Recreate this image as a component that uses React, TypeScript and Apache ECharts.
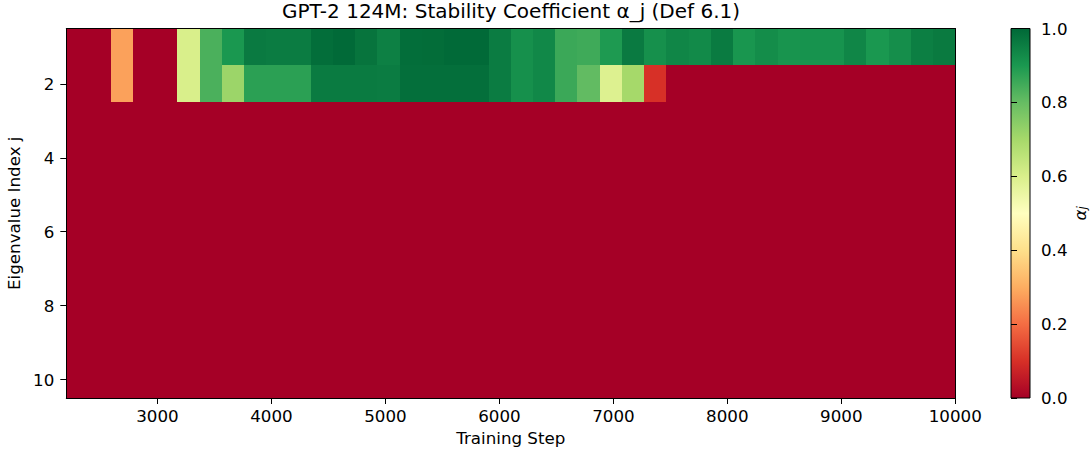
import React, { useEffect, useRef } from "react";
import * as echarts from "echarts";

// Training steps (one image column each; imshow extent runs from first to last step)
const steps = [
  2200, 2400, 2600, 2800, 3000, 3200, 3400, 3600, 3800, 4000,
  4200, 4400, 4600, 4800, 5000, 5200, 5400, 5600, 5800, 6000,
  6200, 6400, 6600, 6800, 7000, 7200, 7400, 7600, 7800, 8000,
  8200, 8400, 8600, 8800, 9000, 9200, 9400, 9600, 9800, 10000,
];

const eigenIndices = [1, 2, 3, 4, 5, 6, 7, 8, 9, 10];

// Stability coefficient alpha_j per column
const alphaJ1 = [
  0, 0, 0.28, 0, 0, 0.6, 0.835, 0.9, 0.962, 0.958,
  0.958, 0.988, 0.995, 0.975, 0.95, 0.988, 0.99, 0.996, 0.996, 0.958,
  0.917, 0.933, 0.857, 0.851, 0.895, 0.962, 0.917, 0.9375, 0.929, 0.96,
  0.904, 0.923, 0.908, 0.91, 0.91, 0.9375, 0.9, 0.92, 0.952, 0.9625,
];
const alphaJ2 = [
  0, 0, 0.28, 0, 0, 0.6, 0.835, 0.716, 0.878, 0.878,
  0.878, 0.96, 0.96, 0.96, 0.958, 0.985, 0.985, 0.985, 0.985, 0.958,
  0.917, 0.933, 0.857, 0.805, 0.59, 0.7, 0.1, 0, 0, 0,
  0, 0, 0, 0, 0, 0, 0, 0, 0, 0,
];
const zeroRow = [
  0, 0, 0, 0, 0, 0, 0, 0, 0, 0,
  0, 0, 0, 0, 0, 0, 0, 0, 0, 0,
  0, 0, 0, 0, 0, 0, 0, 0, 0, 0,
  0, 0, 0, 0, 0, 0, 0, 0, 0, 0,
];
const alphaRows = [
  alphaJ1, alphaJ2, zeroRow, zeroRow, zeroRow,
  zeroRow, zeroRow, zeroRow, zeroRow, zeroRow,
];

const xTickValues = [3000, 4000, 5000, 6000, 7000, 8000, 9000, 10000];
const yTickValues = [2, 4, 6, 8, 10];
const colorbarTicks = [0, 0.2, 0.4, 0.6, 0.8, 1.0];
const colorbarRange = [0, 1];

const rdYlGn = [
  "#a50026", "#d73027", "#f46d43", "#fdae61", "#fee08b", "#ffffbf",
  "#d9ef8b", "#a6d96a", "#66bd63", "#1a9850", "#006837",
];

const FONT = "DejaVu Sans";
const FS = 16.7;

export default function App() {
  const ref = useRef<HTMLDivElement>(null);

  useEffect(() => {
    document.body.style.margin = "0";
    const chart = echarts.init(ref.current!, null, { renderer: "svg" });

    const nCols = steps.length;
    const ext0 = steps[0];
    const ext1 = steps[nCols - 1];
    const cw = (ext1 - ext0) / nCols;

    const cells: number[][] = [];
    alphaRows.forEach((row, r) => {
      row.forEach((v, k) => {
        cells.push([ext0 + k * cw, eigenIndices[r], v, ext0 + (k + 1) * cw]);
      });
    });

    const axisLabelStyle = { color: "#000", fontFamily: FONT, fontSize: FS };

    const option: any = {
      animation: false,
      title: {
        text: "GPT-2 124M: Stability Coefficient α_j (Def 6.1)",
        left: 511,
        textAlign: "center",
        top: 1,
        padding: 0,
        textStyle: { color: "#000", fontFamily: FONT, fontSize: 20, fontWeight: "normal" },
      },
      visualMap: {
        type: "continuous",
        show: false,
        min: 0,
        max: 1,
        dimension: 2,
        seriesIndex: 0,
        inRange: { color: rdYlGn },
      },
      grid: [
        { left: 66.3, top: 28.5, width: 889, height: 369.5, outerBoundsMode: "none", containLabel: false },
        { left: 1011, top: 28.5, width: 19, height: 369.5, outerBoundsMode: "none", containLabel: false },
      ],
      xAxis: [
        {
          gridIndex: 0,
          type: "value",
          min: ext0,
          max: ext1,
          position: "bottom",
          z: 5,
          name: "Training Step",
          nameLocation: "middle",
          nameGap: 31,
          nameTextStyle: { color: "#000", fontFamily: FONT, fontSize: FS },
          axisLine: { show: true, lineStyle: { color: "#000", width: 1 } },
          axisTick: { show: true, length: 6, customValues: xTickValues, lineStyle: { color: "#000" } },
          axisLabel: { ...axisLabelStyle, margin: 9, customValues: xTickValues, formatter: (v: number) => String(v) },
          splitLine: { show: false },
        },
        {
          gridIndex: 0,
          type: "value",
          min: ext0,
          max: ext1,
          position: "top",
          z: 5,
          axisLine: { show: true, lineStyle: { color: "#000", width: 1 } },
          axisTick: { show: false },
          axisLabel: { show: false },
          splitLine: { show: false },
        },
        {
          gridIndex: 1,
          type: "value",
          min: 0,
          max: 1,
          show: false,
        },
      ],
      yAxis: [
        {
          gridIndex: 0,
          type: "value",
          min: 0.5,
          max: 10.5,
          inverse: true,
          position: "left",
          z: 5,
          name: "Eigenvalue Index j",
          nameLocation: "middle",
          nameGap: 36,
          nameTextStyle: { color: "#000", fontFamily: FONT, fontSize: FS },
          axisLine: { show: true, lineStyle: { color: "#000", width: 1 } },
          axisTick: { show: true, length: 6, customValues: yTickValues, lineStyle: { color: "#000" } },
          axisLabel: { ...axisLabelStyle, margin: 12, customValues: yTickValues },
          splitLine: { show: false },
        },
        {
          gridIndex: 0,
          type: "value",
          min: 0.5,
          max: 10.5,
          inverse: true,
          position: "right",
          z: 5,
          axisLine: { show: true, lineStyle: { color: "#000", width: 1 } },
          axisTick: { show: false },
          axisLabel: { show: false },
          splitLine: { show: false },
        },
        {
          gridIndex: 1,
          type: "value",
          min: colorbarRange[0],
          max: colorbarRange[1],
          position: "right",
          z: 5,
          name: "{a|α}{b|j}",
          nameLocation: "middle",
          nameRotate: 90,
          nameGap: 38,
          nameTextStyle: {
            color: "#000",
            fontFamily: FONT,
            rich: {
              a: { fontSize: FS, fontStyle: "italic", fontFamily: FONT, color: "#000", lineHeight: 20, verticalAlign: "bottom" },
              b: { fontSize: 12, fontStyle: "italic", fontFamily: FONT, color: "#000", lineHeight: 13, verticalAlign: "bottom" },
            },
          },
          axisLine: { show: false },
          axisTick: { show: true, length: 6, customValues: colorbarTicks, lineStyle: { color: "#000" } },
          axisLabel: {
            ...axisLabelStyle,
            margin: 11,
            customValues: colorbarTicks,
            formatter: (v: number) => v.toFixed(1),
          },
          splitLine: { show: false },
        },
      ],
      series: [
        {
          type: "custom",
          xAxisIndex: 0,
          yAxisIndex: 0,
          clip: true,
          encode: { x: [0, 3], y: 1 },
          data: cells,
          renderItem: (params: any, api: any) => {
            const x0 = api.value(0);
            const x1 = api.value(3);
            const j = api.value(1);
            const p0 = api.coord([x0, j - 0.5]);
            const p1 = api.coord([x1, j + 0.5]);
            const xa = Math.round(Math.min(p0[0], p1[0]));
            const xb = Math.round(Math.max(p0[0], p1[0]));
            const ya = Math.round(Math.min(p0[1], p1[1]));
            const yb = Math.round(Math.max(p0[1], p1[1]));
            return {
              type: "rect",
              shape: { x: xa, y: ya, width: xb - xa + 1, height: yb - ya + 1 },
              style: { fill: api.visual("color"), stroke: null },
            };
          },
        },
        {
          type: "custom",
          xAxisIndex: 2,
          yAxisIndex: 2,
          data: [colorbarRange],
          encode: { y: [0, 1] },
          renderItem: (params: any, api: any) => {
            const p0 = api.coord([0, api.value(0)]);
            const p1 = api.coord([1, api.value(1)]);
            const stops = rdYlGn.map((c, i) => ({ offset: i / (rdYlGn.length - 1), color: c }));
            return {
              type: "rect",
              shape: {
                x: Math.min(p0[0], p1[0]),
                y: Math.min(p0[1], p1[1]),
                width: Math.abs(p1[0] - p0[0]),
                height: Math.abs(p1[1] - p0[1]),
              },
              style: {
                fill: new echarts.graphic.LinearGradient(0, 1, 0, 0, stops),
                stroke: "#000",
                lineWidth: 1,
              },
            };
          },
        },
      ],
    };

    chart.setOption(option);
    return () => chart.dispose();
  }, []);

  return <div ref={ref} style={{ width: 1091, height: 452 }} />;
}
